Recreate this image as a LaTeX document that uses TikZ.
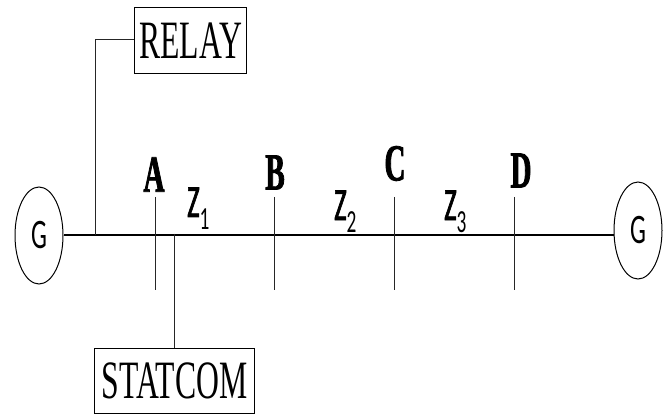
\documentclass[tikz,border=0pt]{standalone}
\usepackage{fontspec}
\usetikzlibrary{shapes.geometric}
\newfontfamily\boxfont[FakeStretch=0.587]{Liberation Serif}
\newfontfamily\busfont[FakeStretch=0.56,FakeBold=1.5]{Liberation Serif Bold}
\newfontfamily\genfont[FakeStretch=0.6]{Carlito}
\newfontfamily\zonefont[FakeStretch=0.58,FakeBold=1.5]{Carlito}
\newcommand{\zonelabel}[1]{{\zonefont Z}\textsubscript{\genfont #1}}
\tikzset{
  blockbox/.style={draw,line width=1pt,inner sep=0pt,font=\boxfont\fontsize{54}{54}\selectfont},
  gen/.style={draw,ellipse,line width=1pt,inner sep=0pt,minimum width=48pt,minimum height=97pt,font=\genfont\fontsize{42}{42}\selectfont},
  busname/.style={inner sep=0pt,font=\busfont\fontsize{52}{52}\selectfont},
  zone/.style={inner sep=0pt,anchor=base west,font=\fontsize{46}{46}\selectfont},
  thin bar/.style={draw=black!85,line width=0.8pt}
}
\begin{document}
\begin{tikzpicture}[x=1pt,y=-1pt]
  \useasboundingbox (0,0) rectangle (669,414);

  \node[gen] (genleft) at (39,235.5) {G};
  \node[gen] (genright) at (638,230.5) {G};
  \draw[line width=1.7pt] (genleft.east |- 0,235.3)--(genright.west |- 0,235.3);

  \node[blockbox,minimum width=112pt,minimum height=65.5pt] (relay) at (190.5,40.7) {RELAY};
  \node[blockbox,minimum width=159.5pt,minimum height=65pt] (statcom) at (174.7,380.5) {STATCOM};

  % tap points on the line
  \coordinate (relaytap) at (95,234.5);
  \coordinate (statcomtap) at (174.5,233.5);
  \draw[thin bar] (relay.west |- 0,39)-|(relaytap);
  \draw[thin bar] (statcomtap)--(statcomtap |- statcom.north);

  % buses
  \coordinate (Atop) at (155,197);  \coordinate (Abot) at (155,290);
  \coordinate (Btop) at (274.5,197); \coordinate (Bbot) at (274.5,290);
  \coordinate (Ctop) at (394.5,197); \coordinate (Cbot) at (394.5,290);
  \coordinate (Dtop) at (514.5,197); \coordinate (Dbot) at (514.5,290);
  \draw[thin bar] (Atop)--(Abot);
  \draw[thin bar] (Btop)--(Bbot);
  \draw[thin bar] (Ctop)--(Cbot);
  \draw[thin bar] (Dtop)--(Dbot);

  \node[busname] (labelA) at (154,174.5) {A};
  \node[busname] (labelB) at (275,172.5) {B};
  \node[busname] (labelC) at (395,163.5) {C};
  \node[busname] (labelD) at (521,170.5) {D};

  \node[zone] (zoneone) at (187,217) {\zonelabel{1}};
  \node[zone] (zonetwo) at (334,220) {\zonelabel{2}};
  \node[zone] (zonethree) at (444,220) {\zonelabel{3}};
\end{tikzpicture}
\end{document}
